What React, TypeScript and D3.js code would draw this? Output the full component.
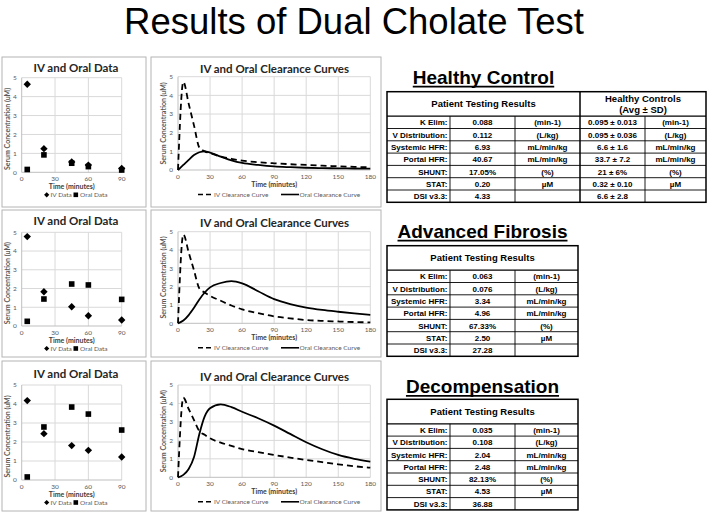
import React from "react";
import * as d3 from "d3";

// ---------- DATA ----------
const sampleTimes = [5, 20, 45, 60, 90];
const ivData1 = [4.65, 1.25, 0.55, 0.38, 0.2];
const oralData1 = [0.15, 0.92, 0.48, 0.3, 0.12];
const ivData2 = [4.77, 1.83, 1.03, 0.55, 0.32];
const oralData2 = [0.25, 1.44, 2.24, 2.19, 1.42];
const ivData3 = [4.18, 2.44, 1.81, 1.56, 1.21];
const oralData3 = [0.16, 2.79, 3.84, 3.47, 2.63];

const curveTimes = [0, 5, 10, 15, 20, 25, 30, 40, 50, 60, 75, 90, 105, 120, 135, 150, 165, 180];
const ivCurve1 = [0, 4.72, 3.55, 2.38, 1.2, 1.0, 0.9, 0.72, 0.6, 0.5, 0.42, 0.36, 0.31, 0.27, 0.23, 0.2, 0.17, 0.14];
const oralCurve1 = [0, 0.27, 0.54, 0.8, 0.95, 1.0, 0.93, 0.72, 0.52, 0.38, 0.27, 0.19, 0.15, 0.12, 0.1, 0.09, 0.08, 0.07];
const ivCurve2 = [0, 4.85, 3.87, 2.88, 1.9, 1.68, 1.5, 1.23, 0.97, 0.76, 0.55, 0.38, 0.27, 0.18, 0.13, 0.1, 0.07, 0.05];
const oralCurve2 = [0, 0.15, 0.45, 0.85, 1.3, 1.68, 1.96, 2.2, 2.3, 2.18, 1.75, 1.32, 1.05, 0.86, 0.73, 0.63, 0.54, 0.46];
const ivCurve3 = [0, 4.31, 3.7, 3.1, 2.5, 2.3, 2.11, 1.88, 1.7, 1.53, 1.36, 1.21, 1.07, 0.94, 0.82, 0.7, 0.6, 0.52];
const oralCurve3 = [0, 0.13, 0.45, 1.1, 2.35, 3.3, 3.74, 3.95, 3.8, 3.55, 3.2, 2.8, 2.35, 1.9, 1.52, 1.21, 1.0, 0.85];

const yTicks = [0, 1, 2, 3, 4, 5];
const smallXTicks = [0, 30, 60, 90];
const bigXTicks = [0, 30, 60, 90, 120, 150, 180];

const sectionTitles = ["Healthy Control", "Advanced Fibrosis", "Decompensation"];
const rowLabels = ["K Elim:", "V Distribution:", "Systemic HFR:", "Portal HFR:", "SHUNT:", "STAT:", "DSI v3.3:"];
const rowUnits = ["(min-1)", "(L/kg)", "mL/min/kg", "mL/min/kg", "(%)", "\u00B5M", ""];
const patientValues1 = ["0.088", "0.112", "6.93", "40.67", "17.05%", "0.20", "4.33"];
const patientValues2 = ["0.063", "0.076", "3.34", "4.96", "67.33%", "2.50", "27.28"];
const patientValues3 = ["0.035", "0.108", "2.04", "2.48", "82.13%", "4.53", "36.88"];
const controlValues = ["0.095 \u00B1 0.013", "0.095 \u00B1 0.036", "6.6 \u00B1 1.6", "33.7 \u00B1 7.2", "21 \u00B1 6%", "0.32 \u00B1 0.10", "6.6 \u00B1 2.8"];
const controlUnits = ["(min-1)", "(L/kg)", "mL/min/kg", "mL/min/kg", "(%)", "\u00B5M", ""];

const sampleSets = [
  [ivData1, oralData1],
  [ivData2, oralData2],
  [ivData3, oralData3],
];
const curveSets = [
  [ivCurve1, oralCurve1],
  [ivCurve2, oralCurve2],
  [ivCurve3, oralCurve3],
];
const patientSets = [patientValues1, patientValues2, patientValues3];

// ---------- LAYOUT ----------
const chartFont = "Lato, 'Open Sans', sans-serif";
const tableFont = "'Liberation Sans', Arial, sans-serif";
const boxes = [
  { top: 57, bottom: 207 },
  { top: 210, bottom: 357 },
  { top: 361, bottom: 511 },
];
const smallY = [
  { y0: 172.3, y5: 77.7, title: 71.7 },
  { y0: 326, y5: 232.3, title: 225 },
  { y0: 480, y5: 385, title: 378 },
];
const bigY = [
  { y0: 170, y5: 76.7, title: 73.3 },
  { y0: 323.3, y5: 231.7, title: 226.7 },
  { y0: 477.3, y5: 385, title: 381 },
];
const tableLayout = [
  { title: 84, top: 91.7 },
  { title: 238, top: 245.7 },
  { title: 393.3, top: 399.3 },
];

const gridColor = "#d9d9d9";
const axisColor = "#bfbfbf";
const boxColor = "#b4b4b4";
const labelColor = "#595959";
const sectionFontSize = 19;

const diamondPath = (r: number) => `M0,${-r}L${r},0L0,${r}L${-r},0Z`;

let measureCtx: CanvasRenderingContext2D | null = null;
function measureWidth(text: string, font: string): number {
  if (!measureCtx && typeof document !== "undefined") {
    measureCtx = document.createElement("canvas").getContext("2d");
  }
  if (!measureCtx) return text.length * 10;
  measureCtx.font = font;
  return measureCtx.measureText(text).width;
}

function SmallChart({ row }: { row: number }) {
  const b = boxes[row];
  const L = smallY[row];
  const x = d3.scaleLinear().domain([0, 90]).range([21.7, 121.7]);
  const y = d3.scaleLinear().domain([0, 5]).range([L.y0, L.y5]);
  const [iv, oral] = sampleSets[row];
  const cx = 76;
  return (
    <g>
      <rect x={2} y={b.top} width={144} height={b.bottom - b.top} fill="#fff" stroke={boxColor} strokeWidth={1} />
      <text x={cx} y={L.title} textAnchor="middle" fontFamily={chartFont} fontWeight="bold" fontSize={11.5} fill="#262626">IV and Oral Data</text>
      {yTicks.filter((t) => t > 0).map((t) => (
        <line key={"h" + t} x1={x(0)} x2={x(90)} y1={y(t)} y2={y(t)} stroke={gridColor} strokeWidth={1} />
      ))}
      {smallXTicks.filter((t) => t > 0).map((t) => (
        <line key={"v" + t} x1={x(t)} x2={x(t)} y1={y(0)} y2={y(5)} stroke={gridColor} strokeWidth={1} />
      ))}
      <line x1={x(0)} x2={x(0)} y1={y(0)} y2={y(5)} stroke={axisColor} />
      <line x1={x(0)} x2={x(90)} y1={y(0)} y2={y(0)} stroke={axisColor} />
      {yTicks.map((t) => (
        <text key={"yl" + t} x={x(0) - 5} y={y(t) + 2.3} textAnchor="end" fontFamily={chartFont} fontSize={6.5} fill={labelColor}>{t}</text>
      ))}
      {smallXTicks.map((t) => (
        <text key={"xl" + t} x={x(t)} y={y(0) + 9} textAnchor="middle" fontFamily={chartFont} fontSize={6.5} fill={labelColor}>{t}</text>
      ))}
      <text x={(x(0) + x(90)) / 2} y={y(0) + 16.5} textAnchor="middle" fontFamily={chartFont} fontWeight="bold" fontSize={7} fill="#404040">Time (minutes)</text>
      <text transform={`translate(10,${(y(0) + y(5)) / 2 + 4}) rotate(-90)`} textAnchor="middle" fontFamily={chartFont} fontWeight="bold" fontSize={7} fill={labelColor}>Serum Concentration (uM)</text>
      {oral.map((v, i) => (
        <rect key={"o" + i} x={x(sampleTimes[i]) - 2.8} y={y(v) - 2.8} width={5.6} height={5.6} fill="#000" />
      ))}
      {iv.map((v, i) => (
        <path key={"i" + i} d={diamondPath(3.7)} transform={`translate(${x(sampleTimes[i])},${y(v)})`} fill="#000" />
      ))}
      <g fontFamily={chartFont} fontSize={6.5} fill={labelColor}>
        <path d={diamondPath(2.6)} transform={`translate(46.7,${y(0) + 22.5})`} fill="#000" />
        <text x={50.5} y={y(0) + 25}>IV Data</text>
        <rect x={73.5} y={y(0) + 20.2} width={4.6} height={4.6} fill="#000" />
        <text x={80} y={y(0) + 25}>Oral Data</text>
      </g>
    </g>
  );
}

function BigChart({ row }: { row: number }) {
  const b = boxes[row];
  const L = bigY[row];
  const x = d3.scaleLinear().domain([0, 180]).range([178, 370.3]);
  const y = d3.scaleLinear().domain([0, 5]).range([L.y0, L.y5]);
  const [iv, oral] = curveSets[row];
  const line = d3
    .line<number>()
    .x((_, i) => x(curveTimes[i]))
    .y((d) => y(d))
    .curve(d3.curveMonotoneX);
  const ly = y(0) + 24.5;
  return (
    <g>
      <rect x={151} y={b.top} width={230} height={b.bottom - b.top} fill="#fff" stroke={boxColor} strokeWidth={1} />
      <text x={274.5} y={L.title} textAnchor="middle" fontFamily={chartFont} fontWeight="bold" fontSize={11.5} fill="#262626">IV and Oral Clearance Curves</text>
      {yTicks.filter((t) => t > 0).map((t) => (
        <line key={"h" + t} x1={x(0)} x2={x(180)} y1={y(t)} y2={y(t)} stroke={gridColor} strokeWidth={1} />
      ))}
      {bigXTicks.filter((t) => t > 0).map((t) => (
        <line key={"v" + t} x1={x(t)} x2={x(t)} y1={y(0)} y2={y(5)} stroke={gridColor} strokeWidth={1} />
      ))}
      <line x1={x(0)} x2={x(0)} y1={y(0)} y2={y(5)} stroke={axisColor} />
      <line x1={x(0)} x2={x(180)} y1={y(0)} y2={y(0)} stroke={axisColor} />
      {yTicks.map((t) => (
        <text key={"yl" + t} x={x(0) - 5} y={y(t) + 2.3} textAnchor="end" fontFamily={chartFont} fontSize={6.5} fill={labelColor}>{t}</text>
      ))}
      {bigXTicks.map((t) => (
        <text key={"xl" + t} x={x(t)} y={y(0) + 9} textAnchor="middle" fontFamily={chartFont} fontSize={6.5} fill={labelColor}>{t}</text>
      ))}
      <text x={(x(0) + x(180)) / 2} y={y(0) + 17} textAnchor="middle" fontFamily={chartFont} fontWeight="bold" fontSize={7} fill="#404040">Time (minutes)</text>
      <text transform={`translate(166,${(y(0) + y(5)) / 2}) rotate(-90)`} textAnchor="middle" fontFamily={chartFont} fontWeight="bold" fontSize={7} fill={labelColor}>Serum Concentration (uM)</text>
      <path d={line(oral) || ""} fill="none" stroke="#000" strokeWidth={1.8} />
      <path d={line(iv) || ""} fill="none" stroke="#000" strokeWidth={1.8} strokeDasharray="6,4" />
      <line x1={198} x2={211} y1={ly} y2={ly} stroke="#000" strokeWidth={1.6} strokeDasharray="5,3" />
      <text x={214} y={ly + 2.4} fontFamily={chartFont} fontSize={6.5} fill={labelColor}>IV Clearance Curve</text>
      <line x1={281} x2={299} y1={ly} y2={ly} stroke="#000" strokeWidth={1.6} />
      <text x={299.5} y={ly + 2.4} fontFamily={chartFont} fontSize={6.5} fill={labelColor}>Oral Clearance Curve</text>
    </g>
  );
}

function ResultTable({ row }: { row: number }) {
  const T = tableLayout[row];
  const full = row === 0;
  const cols = full ? [387, 450, 515, 580, 645, 706] : [387, 450, 515, 578];
  const headerH = 24.5;
  const rowH = 12.3;
  const top = T.top;
  const bottom = top + headerH + rowH * rowLabels.length;
  const left = cols[0];
  const right = cols[cols.length - 1];
  const values = patientSets[row];
  const titleX = (cols[0] + cols[3]) / 2;
  const fs = 8;
  const tw = measureWidth(sectionTitles[row], `bold ${sectionFontSize}px 'Liberation Sans', Arial, sans-serif`);
  return (
    <g fontFamily={tableFont}>
      <text x={titleX} y={T.title} textAnchor="middle" fontWeight="bold" fontSize={sectionFontSize} fill="#000">{sectionTitles[row]}</text>
      <line x1={titleX - tw / 2} x2={titleX + tw / 2} y1={T.title + 2.6} y2={T.title + 2.6} stroke="#000" strokeWidth={1.9} />
      <rect x={left} y={top} width={right - left} height={bottom - top} fill="#fff" stroke="none" />
      {rowLabels.map((_, i) => (
        <line key={"r" + i} x1={left} x2={right} y1={top + headerH + rowH * i} y2={top + headerH + rowH * i} stroke="#000" strokeWidth={i === 0 ? 1.3 : 0.9} />
      ))}
      {cols.slice(1, -1).map((cx, i) => (
        <line key={"c" + i} x1={cx} x2={cx} y1={i === 2 ? top : top + headerH} y2={bottom} stroke="#000" strokeWidth={i === 2 ? 1.5 : 0.9} />
      ))}
      <rect x={left} y={top} width={right - left} height={bottom - top} fill="none" stroke="#000" strokeWidth={1.5} />
      <text x={(cols[0] + cols[3]) / 2} y={top + headerH / 2 + 3.5} textAnchor="middle" fontWeight="bold" fontSize={9.5} fill="#000">Patient Testing Results</text>
      {full && (
        <g>
          <text x={(cols[3] + cols[5]) / 2} y={top + 10} textAnchor="middle" fontWeight="bold" fontSize={9.5} fill="#000">Healthy Controls</text>
          <text x={(cols[3] + cols[5]) / 2} y={top + 21} textAnchor="middle" fontWeight="bold" fontSize={9.5} fill="#000">(Avg {"\u00B1"} SD)</text>
        </g>
      )}
      {rowLabels.map((lab, i) => {
        const by = top + headerH + rowH * i + rowH / 2 + 3;
        return (
          <g key={"t" + i} fontWeight="bold" fontSize={fs} fill="#000">
            <text x={cols[1] - 2.5} y={by} textAnchor="end">{lab}</text>
            <text x={(cols[1] + cols[2]) / 2} y={by} textAnchor="middle">{values[i]}</text>
            <text x={(cols[2] + cols[3]) / 2} y={by} textAnchor="middle">{rowUnits[i]}</text>
            {full && <text x={(cols[3] + cols[4]) / 2} y={by} textAnchor="middle">{controlValues[i]}</text>}
            {full && <text x={(cols[4] + cols[5]) / 2} y={by} textAnchor="middle">{controlUnits[i]}</text>}
          </g>
        );
      })}
    </g>
  );
}

export default function App() {
  return (
    <svg width={708} height={512} style={{ position: "absolute", left: 0, top: 0, background: "#fff" }}>
      <rect x={0} y={0} width={708} height={512} fill="#fff" />
      <text x={354} y={33.5} textAnchor="middle" fontFamily={tableFont} fontSize={36.5} fill="#000">Results of Dual Cholate Test</text>
      {[0, 1, 2].map((r) => (
        <g key={r}>
          <SmallChart row={r} />
          <BigChart row={r} />
          <ResultTable row={r} />
        </g>
      ))}
    </svg>
  );
}
